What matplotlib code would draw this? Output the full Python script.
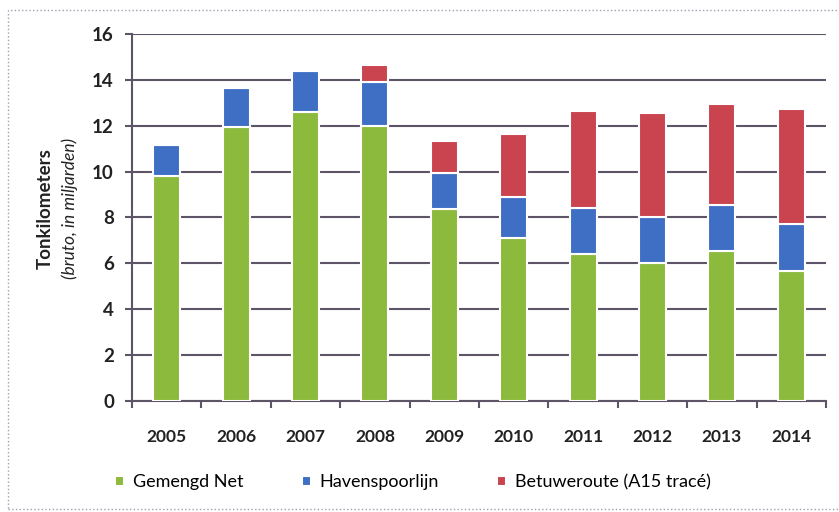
import numpy as np
import matplotlib.pyplot as plt
from matplotlib.patches import Rectangle

years = ['2005', '2006', '2007', '2008', '2009', '2010', '2011', '2012', '2013', '2014']
gemengd_net = [9.8, 11.95, 12.6, 12.0, 8.35, 7.1, 6.4, 6.0, 6.55, 5.65]
havenspoorlijn = [1.35, 1.7, 1.8, 1.9, 1.6, 1.8, 2.0, 2.0, 2.0, 2.05]
betuweroute = [0.0, 0.0, 0.0, 0.75, 1.4, 2.75, 4.25, 4.55, 4.4, 5.05]
labels = ['Gemengd Net', 'Havenspoorlijn', 'Betuweroute (A15 tracé)']

colors = ['#8cba3c', '#3e6fc5', '#c9444f']
grid_color = '#5e5468'

plt.rcParams['font.family'] = ['Lato', 'DejaVu Sans']

fig = plt.figure(figsize=(8.39, 5.12), dpi=100)
fig.patch.set_facecolor('white')
ax = fig.add_axes([0.1573, 0.2168, 0.8272, 0.7168])

x = np.arange(len(years))
g = np.array(gemengd_net)
h = np.array(havenspoorlijn)
b = np.array(betuweroute)
w = 0.39
ax.bar(x, g, w, color=colors[0], edgecolor='white', linewidth=1.5, label=labels[0], zorder=3)
ax.bar(x, h, w, bottom=g, color=colors[1], edgecolor='white', linewidth=1.5, label=labels[1], zorder=3)
ax.bar(x, b, w, bottom=g + h, color=colors[2], edgecolor='white', linewidth=1.5, label=labels[2], zorder=3)

ax.set_xlim(-0.5, len(years) - 0.5)
ax.set_ylim(0, 16)
ax.set_yticks(range(0, 17, 2))
ax.set_xticks(x)
ax.set_xticklabels(years, fontsize=12.5, fontweight='bold', color='#222222')
ax.set_xticks(np.arange(-0.5, len(years)), minor=True)
ax.tick_params(axis='x', which='major', length=0, pad=20)
ax.tick_params(axis='x', which='minor', length=5, width=1.5, color=grid_color, direction='out')
ax.tick_params(axis='y', length=5, width=1.5, color=grid_color, labelsize=13.5, pad=8)
for t in ax.get_yticklabels():
    t.set_fontweight('bold')
    t.set_color('#222222')

ax.grid(axis='y', color=grid_color, linewidth=1.5, zorder=0)
for s in ['top', 'right']:
    ax.spines[s].set_visible(False)
ax.spines['left'].set_color(grid_color)
ax.spines['bottom'].set_color(grid_color)
ax.spines['left'].set_linewidth(1.5)
ax.spines['bottom'].set_linewidth(1.5)

fig.text(0.054, 0.592, 'Tonkilometers', rotation=90, ha='center', va='center',
         fontsize=13.5, fontweight='bold', color='#222222')
fig.text(0.083, 0.592, '(bruto, in miljarden)', rotation=90, ha='center', va='center',
         fontsize=12.5, style='italic', color='#222222')

fig.legend(loc='center left', bbox_to_anchor=(0.118, 0.058), ncol=3, frameon=False,
           fontsize=13, handlelength=0.5, handleheight=0.5, handletextpad=0.5,
           columnspacing=3.2)

fig.patches.append(Rectangle((0.0095, 0.006), 1.0, 0.974, transform=fig.transFigure,
                             fill=False, edgecolor='#a49cb0', linewidth=1.0, linestyle=':'))

fig.savefig('out.png', dpi=100)
